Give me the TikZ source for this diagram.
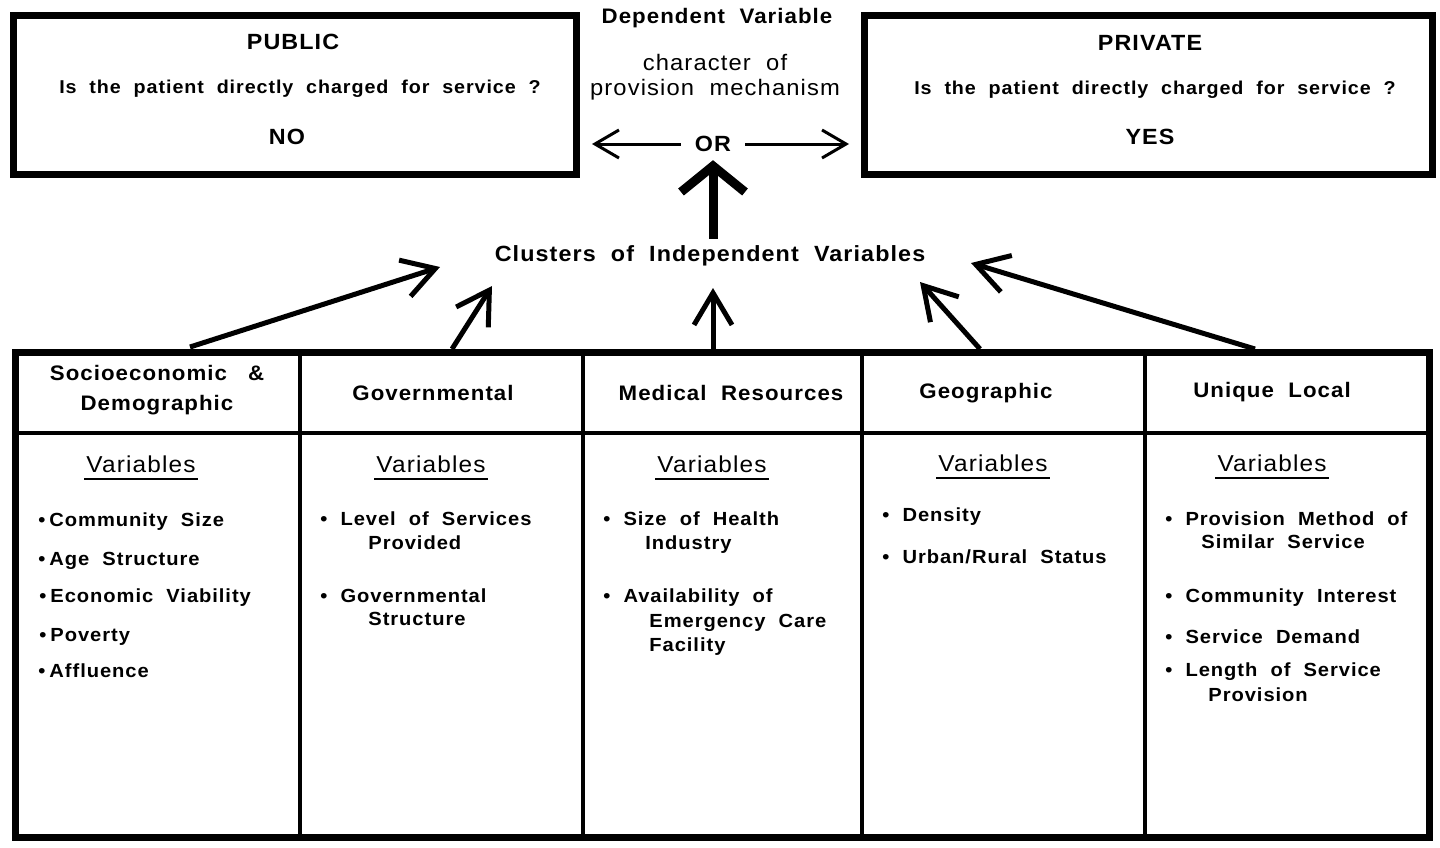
\documentclass[tikz,border=0pt]{standalone}
\usepackage{fontspec}
\setmainfont{Liberation Sans}[LetterSpace=5,WordSpace=2,FakeStretch=1.06]
\usetikzlibrary{arrows.meta}

\tikzset{
	frame/.style={draw, line width=3.5pt, inner sep=0pt},
	title/.style={font=\fontsize{11}{13}\selectfont\bfseries},
	ask/.style={font=\fontsize{9.3}{11}\selectfont\bfseries},
	head/.style={font=\fontsize{10.5}{15}\selectfont\bfseries, align=center},
	varhead/.style={font=\fontsize{11.5}{14}\selectfont, inner sep=1pt},
	item/.style={font=\fontsize{9.5}{12}\selectfont\bfseries, anchor=west, inner sep=0pt, text height=7pt, text depth=2pt},
	sidearrow/.style={-{Straight Barb[length=12pt,width=14pt]}, line width=1.5pt},
	fatarrow/.style={-{Straight Barb[length=13pt,width=32pt]}, line width=4.5pt},
	clarrow/.style={-{Straight Barb[length=16pt,width=19pt]}, line width=2.5pt},
	uline/.style={line width=1.2pt}
}

\begin{document}
\begin{tikzpicture}[x=0.5pt,y=-0.5pt]
	\useasboundingbox (0,0) rectangle (1440,847);

	% the two outcomes
	\node[frame, minimum width=281.5pt, minimum height=79.5pt] (pub) at (295,95) {};
	\node[frame, minimum width=284pt, minimum height=79.5pt] (priv) at (1148.5,95) {};
	\node[title] (pubt) at (293,42) {PUBLIC};
	\node[ask] (pubq) at (300,89) {Is the patient directly charged for service ?};
	\node[title] (pubno) at (287,137) {NO};
	\node[title] (privt) at (1150,43) {PRIVATE};
	\node[ask] (privq) at (1155,90) {Is the patient directly charged for service ?};
	\node[title] (privyes) at (1150,137) {YES};

	% dependent variable in the middle
	\node[title, font=\fontsize{10.5}{13}\selectfont\bfseries] (dep) at (717,18) {Dependent Variable};
	\node[font=\fontsize{11.2}{12.5}\selectfont, align=center] (mech) at (715,77) {character of\\provision mechanism};
	\node[title, inner sep=7pt] (or) at (713,144) {OR};
	\draw[sidearrow, shorten >=6pt] (or.west) -- (or.west -| pub.east);
	\draw[sidearrow, shorten >=6pt] (or.east) -- (or.east -| priv.west);

	% clusters
	\node[title] (cl) at (710,256) {Clusters of Independent Variables};
	\draw[fatarrow, shorten >=-3pt] (cl.north -| or.south) -- (or.south);

	% table of clusters
	\draw[line width=3.5pt] (15,352) rectangle (1429,837);
	\draw[line width=2pt] (15,433) -- (1429,433);
	\draw[line width=2pt] (300,352) -- (300,837);
	\draw[line width=2pt] (583,352) -- (583,837);
	\draw[line width=2pt] (862,352) -- (862,837);
	\draw[line width=2pt] (1145,352) -- (1145,837);

	\node[head] (socio) at (157,390) {Socioeconomic\quad\&\\Demographic};
	\node[head] (gov) at (433,393) {Governmental};
	\node[head] (med) at (731,393) {Medical Resources};
	\node[head] (geo) at (986,393) {Geographic};
	\node[head] (uniq) at (1272,392) {Unique Local};

	% arrows up to the clusters
	\coordinate (f1) at (190,347);
	\coordinate (f2) at (452,349);
	\coordinate (f3) at (713,349);
	\coordinate (f4) at (980,349);
	\coordinate (f5) at (1255,349);
	\coordinate (h1) at (440,267);
	\coordinate (h2) at (492,286);
	\coordinate (h3) at (713,288);
	\coordinate (h4) at (920,282);
	\coordinate (h5) at (971,263);
	\draw[clarrow] (f1) -- (h1);
	\draw[clarrow] (f2) -- (h2);
	\draw[clarrow] (f3) -- (h3);
	\draw[clarrow] (f4) -- (h4);
	\draw[clarrow] (f5) -- (h5);

	\node[varhead] (v1) at (141,464) {Variables};
	\node[varhead] (v2) at (431,464) {Variables};
	\node[varhead] (v3) at (712,464) {Variables};
	\node[varhead] (v4) at (993,463) {Variables};
	\node[varhead] (v5) at (1272,463) {Variables};
	\draw[uline] ([yshift=-3.5pt]v1.base west) -- ([yshift=-3.5pt]v1.base east);
	\draw[uline] ([yshift=-3.5pt]v2.base west) -- ([yshift=-3.5pt]v2.base east);
	\draw[uline] ([yshift=-3.5pt]v3.base west) -- ([yshift=-3.5pt]v3.base east);
	\draw[uline] ([yshift=-3.5pt]v4.base west) -- ([yshift=-3.5pt]v4.base east);
	\draw[uline] ([yshift=-3.5pt]v5.base west) -- ([yshift=-3.5pt]v5.base east);

	% socioeconomic
	\node[item] (se1) at (38,521) {\textbullet\hspace{2pt}Community Size};
	\node[item] (se2) at (38,560) {\textbullet\hspace{2pt}Age Structure};
	\node[item] (se3) at (39,597) {\textbullet\hspace{2pt}Economic Viability};
	\node[item] (se4) at (39,636) {\textbullet\hspace{2pt}Poverty};
	\node[item] (se5) at (38,672) {\textbullet\hspace{2pt}Affluence};

	% governmental
	\node[item] (go1) at (320,520) {\textbullet\ Level of Services};
	\node[item] (go1b) at (368,544) {Provided};
	\node[item] (go2) at (320,597) {\textbullet\ Governmental};
	\node[item] (go2b) at (368,620) {Structure};

	% medical
	\node[item] (me1) at (603,520) {\textbullet\ Size of Health};
	\node[item] (me1b) at (645,544) {Industry};
	\node[item] (me2) at (603,597) {\textbullet\ Availability of};
	\node[item] (me2b) at (649,622) {Emergency Care};
	\node[item] (me2c) at (649,646) {Facility};

	% geographic
	\node[item] (ge1) at (882,516) {\textbullet\ Density};
	\node[item] (ge2) at (882,558) {\textbullet\ Urban/Rural Status};

	% unique local
	\node[item] (un1) at (1165,520) {\textbullet\ Provision Method of};
	\node[item] (un1b) at (1201,543) {Similar Service};
	\node[item] (un2) at (1165,597) {\textbullet\ Community Interest};
	\node[item] (un3) at (1165,638) {\textbullet\ Service Demand};
	\node[item] (un4) at (1165,671) {\textbullet\ Length of Service};
	\node[item] (un4b) at (1208,696) {Provision};
\end{tikzpicture}
\end{document}
